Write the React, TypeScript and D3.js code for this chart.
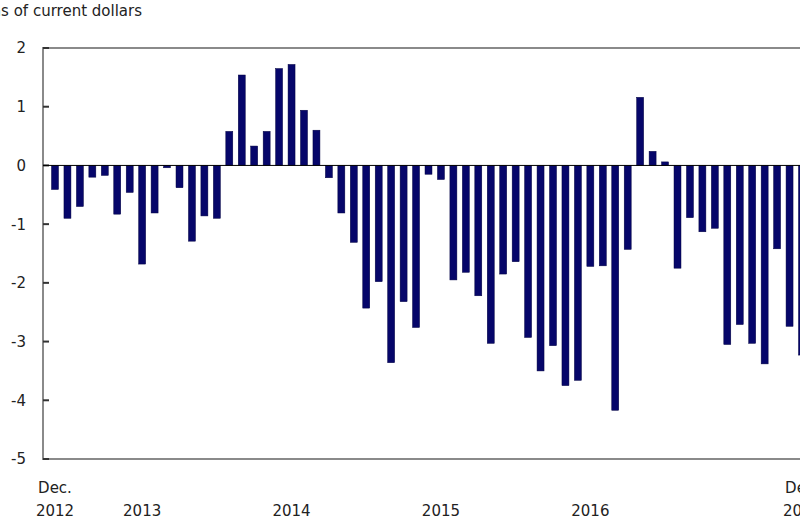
import React, { useEffect, useRef } from 'react';
import * as d3 from 'd3';

// Monthly values, Dec. 2012 to Dec. 2017 (billions of current dollars)
const months: Date[] = d3.timeMonths(new Date(2012, 11, 1), new Date(2018, 0, 1));

const values: number[] = [
  -0.41, -0.9, -0.7, -0.2, -0.17, -0.83, -0.46, -1.68, -0.81, -0.04, -0.38, -1.29, -0.86,
  -0.9, 0.58, 1.54, 0.33, 0.58, 1.65, 1.72, 0.94, 0.6, -0.21, -0.81, -1.31,
  -2.43, -1.98, -3.36, -2.32, -2.76, -0.15, -0.24, -1.95, -1.82, -2.22, -3.03, -1.85,
  -1.64, -2.93, -3.5, -3.07, -3.75, -3.66, -1.72, -1.71, -4.17, -1.43, 1.16, 0.24,
  0.06, -1.75, -0.89, -1.13, -1.07, -3.05, -2.71, -3.03, -3.38, -1.42, -2.74, -3.23,
];

const yTicks: number[] = [2, 1, 0, -1, -2, -3, -4, -5];

// x-axis labels: [month index, first line, second line]
const xLabels: [number, string, string][] = [
  [0, 'Dec.', '2012'],
  [7, '', '2013'],
  [19, '', '2014'],
  [31, '', '2015'],
  [43, '', '2016'],
  [60, 'Dec.', '2017'],
];

const yTitle = 'Billions of current dollars';

export default function App() {
  const svgRef = useRef<SVGSVGElement>(null);

  useEffect(() => {
    const svg = d3.select(svgRef.current);
    svg.selectAll('*').remove();

    const left = 43;
    const top = 48;
    const bottom = 459;
    const step = 12.45;
    const x0 = 55 - step / 2;
    const right = x0 + months.length * step + 8;

    const x = d3
      .scaleBand<number>()
      .domain(months.map((_, i) => i))
      .range([x0, x0 + months.length * step])
      .paddingInner(0.44)
      .paddingOuter(0.22);

    const y = d3.scaleLinear().domain([-5, 2]).range([bottom, top]);

    const font = "'DejaVu Sans', Verdana, sans-serif";
    const textColor = '#222';

    // frame (top, left, bottom)
    svg.append('line')
      .attr('x1', left).attr('x2', right)
      .attr('y1', top).attr('y2', top)
      .attr('stroke', '#8a8a8a').attr('stroke-width', 2);
    svg.append('line')
      .attr('x1', left).attr('x2', right)
      .attr('y1', bottom).attr('y2', bottom)
      .attr('stroke', '#8a8a8a').attr('stroke-width', 2);
    svg.append('line')
      .attr('x1', left).attr('x2', left)
      .attr('y1', top - 1).attr('y2', bottom + 1)
      .attr('stroke', '#8a8a8a').attr('stroke-width', 2);

    // y ticks (inside) and labels
    const yAxis = svg.append('g');
    yAxis.selectAll('line')
      .data(yTicks)
      .enter()
      .append('line')
      .attr('x1', left).attr('x2', left + 6)
      .attr('y1', (d) => y(d)).attr('y2', (d) => y(d))
      .attr('stroke', '#333').attr('stroke-width', 2);
    yAxis.selectAll('text')
      .data(yTicks)
      .enter()
      .append('text')
      .attr('x', 26)
      .attr('y', (d) => y(d))
      .attr('dy', '0.36em')
      .attr('text-anchor', 'end')
      .style('font-family', font)
      .style('font-size', '15px')
      .attr('fill', textColor)
      .text((d) => String(d));

    // bars
    svg.append('g')
      .selectAll('rect')
      .data(values)
      .enter()
      .append('rect')
      .attr('x', (_, i) => x(i) as number)
      .attr('width', x.bandwidth())
      .attr('y', (d) => y(Math.max(0, d)))
      .attr('height', (d) => Math.abs(y(d) - y(0)))
      .attr('fill', '#06066a')
      .attr('stroke', '#000040')
      .attr('stroke-width', 0.5);

    // zero line
    svg.append('line')
      .attr('x1', left).attr('x2', right)
      .attr('y1', y(0)).attr('y2', y(0))
      .attr('stroke', '#000').attr('stroke-width', 1);

    // x labels
    const xl = svg.append('g');
    xLabels.forEach(([i, l1, l2]) => {
      const cx = (x(i) as number) + x.bandwidth() / 2;
      if (l1) {
        xl.append('text')
          .attr('x', cx).attr('y', 493)
          .attr('text-anchor', 'middle')
          .style('font-family', font).style('font-size', '15px')
          .attr('fill', textColor)
          .text(l1);
      }
      xl.append('text')
        .attr('x', cx).attr('y', 516)
        .attr('text-anchor', 'middle')
        .style('font-family', font).style('font-size', '15px')
        .attr('fill', textColor)
        .text(l2);
    });

    // axis title (runs off the left edge, as in the original crop)
    svg.append('text')
      .attr('x', 142).attr('y', 15.5)
      .attr('text-anchor', 'end')
      .style('font-family', font).style('font-size', '15px')
      .attr('fill', textColor)
      .text(yTitle);
  }, []);

  return (
    <svg
      ref={svgRef}
      width={800}
      height={532}
      style={{ position: 'absolute', left: 0, top: 0, background: '#fff' }}
    />
  );
}
